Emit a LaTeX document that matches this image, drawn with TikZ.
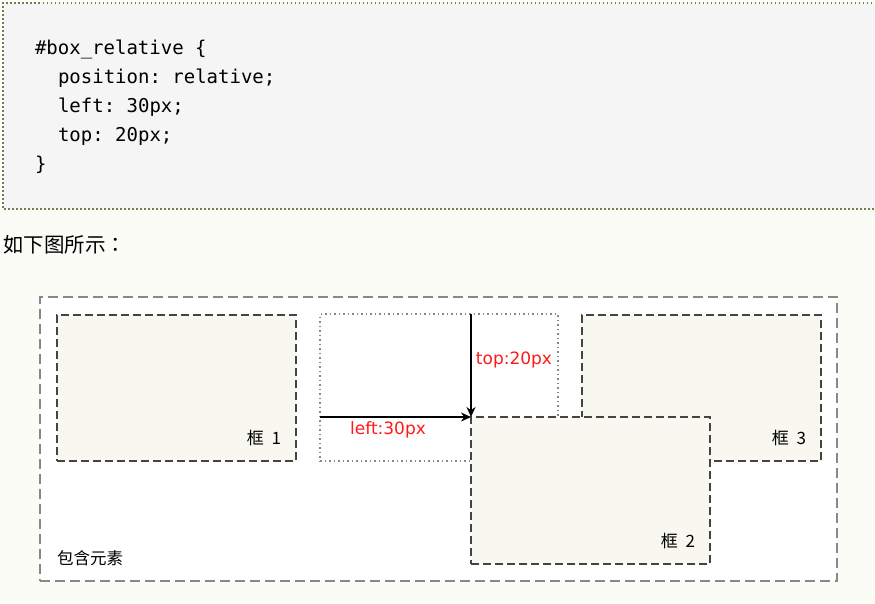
\documentclass[tikz,border=0pt]{standalone}
\usepackage{fontspec}
\setmainfont{DejaVu Sans}
\setmonofont{DejaVu Sans Mono}
\newfontfamily\cjk{Noto Sans CJK TC}
\usepackage{tikz}
\usetikzlibrary{arrows.meta}

\definecolor{pagebg}{HTML}{FCFCF7}
\definecolor{codebg}{HTML}{F5F5F5}
\definecolor{codeborder}{HTML}{6F8050}
\definecolor{boxfill}{HTML}{F8F8F0}
\definecolor{boxline}{HTML}{444444}
\definecolor{outerline}{HTML}{888888}
\definecolor{labelred}{HTML}{FF1A1A}

\begin{document}
\begin{tikzpicture}[x=1pt,y=-1pt]
\tikzstyle{every node} = [inner sep = 0, outer sep = 0]
\tikzstyle{frame} = [anchor = north west, draw = boxline, fill = boxfill, line width = 1.5pt,
	dash pattern = on 8pt off 4pt, minimum width = 239pt, minimum height = 146pt]
\tikzstyle{origframe} = [anchor = north west, draw = outerline, line width = 1.2pt,
	dash pattern = on 1.5pt off 3pt, minimum width = 238pt, minimum height = 147pt]
\tikzstyle{framelabel} = [anchor = south east, font = \cjk\fontsize{17}{17}\selectfont]
\tikzstyle{offset} = [text = labelred, font = \fontsize{17}{17}\selectfont]
\tikzstyle{codetext} = [anchor = base west, font = \ttfamily\fontsize{19}{19}\selectfont]
\tikzstyle{move} = [-{Stealth[length = 10pt, width = 9pt]}, line width = 1.5pt]

	\useasboundingbox[fill = pagebg] (0,0) rectangle (875,603);
	% code block
	\fill[codebg] (3,3) rectangle (880,209);
	\draw[draw = codeborder, line width = 1.5pt, dash pattern = on 1.5pt off 2.5pt]
		(880,3) -- (3,3) -- (3,209) -- (880,209);
	\node [codetext] (code1) at (35,54) {\#box\char`\_relative \{};
	\node [codetext] (code2) at (58,83) {position: relative;};
	\node [codetext] (code3) at (58,112) {left: 30px;};
	\node [codetext] (code4) at (58,141) {top: 20px;};
	\node [codetext] (code5) at (35,170) {\}};
	\node [anchor = west, font = \cjk\fontsize{20.5}{20.5}\selectfont] (caption) at (3,245) {如下图所示：};

	% container
	\node [anchor = north west, draw = outerline, fill = white, line width = 1.2pt,
		dash pattern = on 10pt off 5pt, minimum width = 797pt, minimum height = 284pt] (outer) at (40,297) {};
	\node [anchor = south west, font = \cjk\fontsize{16.5}{16.5}\selectfont] (outerlabel)
		at ([shift = {(17,-15)}]outer.south west) {包含元素};

	\node [frame] (box1) at (57,315) {};
	\node [origframe] (orig) at (320,314) {};
	\node [frame] (box3) at (582,315) {};
	\node [frame, minimum height = 147pt] (box2) at (471,417) {};

	\node [framelabel] (label1) at ([shift = {(-15,-15)}]box1.south east) {框\hspace{0.45em}1};
	\node [framelabel] (label2) at ([shift = {(-15,-15)}]box2.south east) {框\hspace{0.45em}2};
	\node [framelabel] (label3) at ([shift = {(-15,-15)}]box3.south east) {框\hspace{0.45em}3};

	% offsets
	\coordinate (topstart) at (orig.north -| box2.north west);
	\coordinate (leftstart) at (orig.west |- box2.north west);
	\draw [move] (leftstart) -- (box2.north west);
	\draw [move] (topstart) -- (box2.north west);
	\node [offset] (toplabel) at (514,360) {top:20px};
	\node [offset] (leftlabel) at (388,430) {left:30px};

\end{tikzpicture}
\end{document}
